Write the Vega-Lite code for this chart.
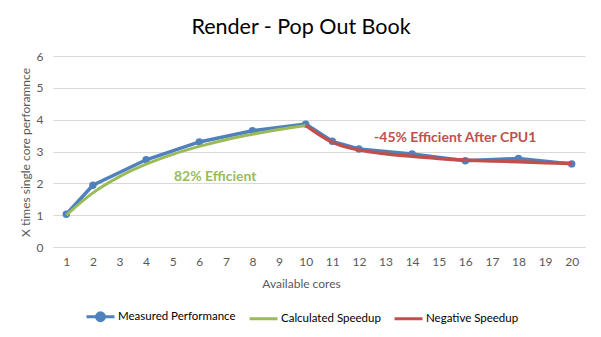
{
  "$schema": "https://vega.github.io/schema/vega-lite/v6.json",
  "width": 532,
  "height": 191,
  "autosize": "none",
  "padding": {"left": 53, "top": 56, "right": 16, "bottom": 90},
  "background": "white",
  "config": {
    "font": "Lato",
    "view": {"stroke": null},
    "axis": {"labelFont": "Lato", "titleFont": "Lato", "labelColor": "#595959", "titleColor": "#595959", "labelFontSize": 12, "titleFontSize": 12, "titleFontWeight": "normal"}
  },
  "title": {"text": "Render - Pop Out Book", "font": "Lato", "fontSize": 21.5, "fontWeight": "normal", "color": "#000000", "anchor": "middle", "dx": -18, "dy": 28, "offset": 23, "baseline": "alphabetic"},
  "datasets": {
    "series": [
      {"series": "Measured Performance", "cores": 1, "value": 1.03},
      {"series": "Measured Performance", "cores": 2, "value": 1.94},
      {"series": "Measured Performance", "cores": 4, "value": 2.74},
      {"series": "Measured Performance", "cores": 6, "value": 3.30},
      {"series": "Measured Performance", "cores": 8, "value": 3.65},
      {"series": "Measured Performance", "cores": 10, "value": 3.86},
      {"series": "Measured Performance", "cores": 11, "value": 3.32},
      {"series": "Measured Performance", "cores": 12, "value": 3.08},
      {"series": "Measured Performance", "cores": 14, "value": 2.92},
      {"series": "Measured Performance", "cores": 16, "value": 2.71},
      {"series": "Measured Performance", "cores": 18, "value": 2.78},
      {"series": "Measured Performance", "cores": 20, "value": 2.61},
      {"series": "Calculated Speedup", "cores": 1, "value": 1.0},
      {"series": "Calculated Speedup", "cores": 2, "value": 1.70},
      {"series": "Calculated Speedup", "cores": 3, "value": 2.21},
      {"series": "Calculated Speedup", "cores": 4, "value": 2.60},
      {"series": "Calculated Speedup", "cores": 5, "value": 2.91},
      {"series": "Calculated Speedup", "cores": 6, "value": 3.16},
      {"series": "Calculated Speedup", "cores": 7, "value": 3.37},
      {"series": "Calculated Speedup", "cores": 8, "value": 3.54},
      {"series": "Calculated Speedup", "cores": 9, "value": 3.69},
      {"series": "Calculated Speedup", "cores": 10, "value": 3.82},
      {"series": "Negative Speedup", "cores": 10, "value": 3.82},
      {"series": "Negative Speedup", "cores": 11, "value": 3.29},
      {"series": "Negative Speedup", "cores": 12, "value": 3.05},
      {"series": "Negative Speedup", "cores": 13, "value": 2.93},
      {"series": "Negative Speedup", "cores": 14, "value": 2.85},
      {"series": "Negative Speedup", "cores": 15, "value": 2.78},
      {"series": "Negative Speedup", "cores": 16, "value": 2.73},
      {"series": "Negative Speedup", "cores": 17, "value": 2.70},
      {"series": "Negative Speedup", "cores": 18, "value": 2.68},
      {"series": "Negative Speedup", "cores": 19, "value": 2.65},
      {"series": "Negative Speedup", "cores": 20, "value": 2.63}
    ],
    "notes": [
      {"note": "82% Efficient", "cores": 6.6, "value": 2.2},
      {"note": "-45% Efficient After CPU1", "cores": 15.62, "value": 3.43}
    ]
  },
  "encoding": {
    "x": {"field": "cores", "type": "quantitative",
      "scale": {"domain": [0.5, 20.5], "nice": false, "zero": false},
      "axis": {"values": [1,2,3,4,5,6,7,8,9,10,11,12,13,14,15,16,17,18,19,20], "grid": false, "ticks": false, "domain": true, "domainColor": "#D9D9D9", "labelPadding": 9, "labelFlush": false, "labelOverlap": false, "title": "Available cores", "titleX": 248, "titleY": 36, "titleBaseline": "middle", "titleAnchor": null}},
    "y": {"field": "value", "type": "quantitative",
      "scale": {"domain": [0, 6], "nice": false},
      "axis": {"values": [0,1,2,3,4,5,6], "grid": true, "gridColor": "#D9D9D9", "ticks": false, "domain": false, "labelPadding": 10, "title": "X times single core perforamnce", "titleX": -28, "titleY": 96, "titleAngle": -90, "titleBaseline": "middle", "titleAlign": "center"}}
  },
  "layer": [
    {
      "data": {"name": "series"},
      "transform": [{"filter": "datum.series === 'Measured Performance'"}],
      "mark": {"type": "line", "strokeWidth": 3.5},
      "encoding": {
        "color": {"field": "series", "type": "nominal",
          "scale": {"domain": ["Measured Performance", "Calculated Speedup", "Negative Speedup"], "range": ["#4F81BD", "#9BBB59", "#C0504D"]},
          "legend": {"title": null, "orient": "none", "direction": "horizontal", "legendX": 32, "legendY": 245,
            "labelFont": "Lato", "labelFontSize": 11.5, "labelColor": "#000000", "symbolSize": 784, "symbolStrokeWidth": 3, "labelOffset": 2, "columnPadding": 7,
            "encode": {"symbols": {"update": {
              "shape": {"signal": "datum.value === 'Measured Performance' ? 'M-1,0L1,0M-0.28,0A0.28,0.28,0,1,0,0.28,0A0.28,0.28,0,1,0,-0.28,0Z' : 'M-1,0L1,0'"},
              "fill": {"signal": "datum.value === 'Measured Performance' ? '#4F81BD' : 'transparent'"},
              "strokeWidth": {"value": 3}}}}}}
      }
    },
    {
      "data": {"name": "series"},
      "transform": [{"filter": "datum.series === 'Measured Performance'"}],
      "mark": {"type": "point", "filled": true, "size": 55, "opacity": 1},
      "encoding": {"color": {"field": "series", "type": "nominal"}}
    },
    {
      "data": {"name": "series"},
      "transform": [{"filter": "datum.series === 'Calculated Speedup'"}],
      "mark": {"type": "line", "strokeWidth": 3, "interpolate": "monotone"},
      "encoding": {"color": {"field": "series", "type": "nominal"}}
    },
    {
      "data": {"name": "series"},
      "transform": [{"filter": "datum.series === 'Negative Speedup'"}],
      "mark": {"type": "line", "strokeWidth": 3.5, "interpolate": "monotone"},
      "encoding": {"color": {"field": "series", "type": "nominal"}}
    },
    {
      "data": {"name": "notes"},
      "transform": [{"filter": "datum.note === '82% Efficient'"}],
      "mark": {"type": "text", "font": "Lato", "fontSize": 14, "fontWeight": "bold", "color": "#9BBB59", "align": "center", "baseline": "middle"},
      "encoding": {"text": {"field": "note"}}
    },
    {
      "data": {"name": "notes"},
      "transform": [{"filter": "datum.note !== '82% Efficient'"}],
      "mark": {"type": "text", "font": "Lato", "fontSize": 14, "fontWeight": "bold", "color": "#C0504D", "align": "center", "baseline": "middle"},
      "encoding": {"text": {"field": "note"}}
    }
  ]
}
